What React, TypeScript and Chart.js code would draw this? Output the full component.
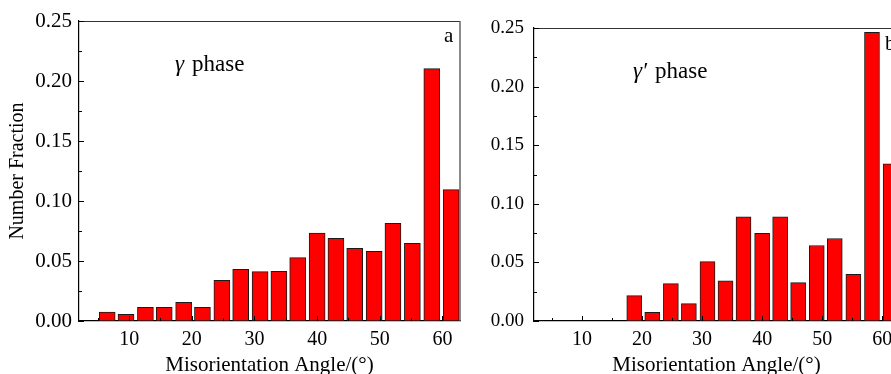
import { useEffect, useRef } from "react";
import { Chart, registerables } from "chart.js";

Chart.register(...registerables);

// ---- data ----
const angles = [6.5, 9.5, 12.6, 15.6, 18.7, 21.7, 24.8, 27.8, 30.9, 33.9, 36.9, 40.0, 43.0, 46.0, 49.1, 52.1, 55.2, 58.3, 61.4];
const gammaFractions = [0.0075, 0.0056, 0.0114, 0.0114, 0.0156, 0.0114, 0.0339, 0.0431, 0.0411, 0.0414, 0.0528, 0.0733, 0.0689, 0.0606, 0.0581, 0.0814, 0.0647, 0.2103, 0.1095];
const gammaPrimeFractions = [0, 0, 0, 0, 0.0217, 0.0074, 0.0319, 0.0148, 0.0507, 0.0342, 0.0888, 0.0749, 0.0888, 0.0328, 0.0644, 0.0704, 0.0399, 0.2463, 0.134];
const xTickValues = [10, 20, 30, 40, 50, 60];
const xTickLabels = ["10", "20", "30", "40", "50", "60"];
const xMinorTickValues = [5, 15, 25, 35, 45, 55];
const yTickValues = [0, 0.05, 0.1, 0.15, 0.2, 0.25];
const yTickLabels = ["0.00", "0.05", "0.10", "0.15", "0.20", "0.25"];
const yMinorTickValues = [0.025, 0.075, 0.125, 0.175, 0.225];
const xTitle = "Misorientation Angle/(°)";
const yTitle = "Number Fraction";

const FONT = "'Liberation Serif', 'Times New Roman', serif";

type Annot = { text: string; x: number; y: number; size: number; italic?: boolean };

type Panel = {
  values: number[];
  width: number;
  left: number;
  padTop: number;
  padRight: number;
  yWidth: number;
  yPad: number;
  ySize: number;
  showYTitle: boolean;
  barThickness: number;
  annots: Annot[];
};

const framePlugin = {
  id: "frameTicks",
  afterDraw(chart: any) {
    const { ctx, chartArea } = chart;
    const xs = chart.scales.x;
    const ys = chart.scales.y;
    ctx.save();
    // top and right frame
    ctx.strokeStyle = "#333";
    ctx.lineWidth = 1;
    ctx.beginPath();
    ctx.moveTo(chartArea.left, chartArea.top + 0.5);
    ctx.lineTo(chartArea.right, chartArea.top + 0.5);
    ctx.stroke();
    ctx.strokeStyle = "#666";
    ctx.lineWidth = 1.5;
    ctx.beginPath();
    ctx.moveTo(chartArea.right, chartArea.top);
    ctx.lineTo(chartArea.right, chartArea.bottom);
    ctx.stroke();
    // inward ticks
    ctx.strokeStyle = "#000";
    ctx.lineWidth = 1;
    const tick = (x1: number, y1: number, x2: number, y2: number) => {
      ctx.beginPath();
      ctx.moveTo(x1, y1);
      ctx.lineTo(x2, y2);
      ctx.stroke();
    };
    xTickValues.forEach((v) => {
      const px = Math.round(xs.getPixelForValue(v)) + 0.5;
      tick(px, chartArea.bottom, px, chartArea.bottom - 5);
    });
    xMinorTickValues.forEach((v) => {
      const px = Math.round(xs.getPixelForValue(v)) + 0.5;
      tick(px, chartArea.bottom, px, chartArea.bottom - 3);
    });
    yTickValues.forEach((v) => {
      const py = Math.round(ys.getPixelForValue(v)) + 0.5;
      tick(chartArea.left, py, chartArea.left + 5, py);
    });
    yMinorTickValues.forEach((v) => {
      const py = Math.round(ys.getPixelForValue(v)) + 0.5;
      tick(chartArea.left, py, chartArea.left + 3, py);
    });
    ctx.restore();
  },
};

const annotPlugin = (items: Annot[]) => ({
  id: "annots",
  afterDraw(chart: any) {
    const { ctx } = chart;
    ctx.save();
    ctx.fillStyle = "#000";
    ctx.textBaseline = "alphabetic";
    ctx.textAlign = "left";
    items.forEach((a) => {
      ctx.font = `${a.italic ? "italic " : ""}${a.size}px ${FONT}`;
      ctx.fillText(a.text, a.x, a.y);
    });
    ctx.restore();
  },
});

function makeConfig(p: Panel): any {
  return {
    type: "bar",
    data: {
      datasets: [
        {
          data: angles.map((a, i) => ({ x: a, y: p.values[i] })),
          backgroundColor: "#ff0000",
          borderColor: "#1a1a1a",
          borderWidth: 1,
          borderSkipped: false,
          barThickness: p.barThickness,
        },
      ],
    },
    options: {
      responsive: false,
      animation: false,
      devicePixelRatio: 1,
      layout: { padding: { left: 0, top: p.padTop, right: p.padRight, bottom: 0 } },
      plugins: { legend: { display: false }, tooltip: { enabled: false }, title: { display: false } },
      scales: {
        x: {
          type: "linear",
          min: 2,
          max: 62.8,
          offset: false,
          grid: { display: false, drawTicks: false, offset: false },
          border: { display: true, color: "#000", width: 1.2 },
          afterBuildTicks: (s: any) => {
            s.ticks = xTickValues.map((v) => ({ value: v }));
          },
          afterFit: (s: any) => {
            s.height = 53;
          },
          ticks: {
            autoSkip: false,
            maxRotation: 0,
            padding: 7,
            color: "#000",
            font: { family: FONT, size: 20 },
            callback: (_v: any, i: number) => xTickLabels[i],
          },
          title: {
            display: true,
            text: xTitle,
            color: "#000",
            font: { family: FONT, size: 21, lineHeight: 0.8 },
            padding: 0,
          },
        },
        y: {
          min: 0,
          max: 0.25,
          grid: { display: false, drawTicks: false },
          border: { display: true, color: "#000", width: 1.2 },
          afterBuildTicks: (s: any) => {
            s.ticks = yTickValues.map((v) => ({ value: v }));
          },
          afterFit: (s: any) => {
            s.width = p.yWidth;
          },
          ticks: {
            autoSkip: false,
            padding: p.yPad,
            color: "#000",
            font: { family: FONT, size: p.ySize },
            callback: (_v: any, i: number) => yTickLabels[i],
          },
          title: {
            display: p.showYTitle,
            text: yTitle,
            color: "#000",
            font: { family: FONT, size: 20, lineHeight: 1.2 },
            padding: { top: 5.5, bottom: 0 },
          },
        },
      },
    },
    plugins: [framePlugin, annotPlugin(p.annots)],
  };
}

const leftPanel: Panel = {
  values: gammaFractions,
  width: 480,
  left: 0,
  padTop: 21,
  padRight: 20,
  yWidth: 79,
  yPad: 7,
  ySize: 21,
  showYTitle: true,
  barThickness: 16,
  annots: [
    { text: "γ", x: 175, y: 71, size: 23, italic: true },
    { text: "phase", x: 192, y: 71, size: 23 },
    { text: "a", x: 444, y: 42, size: 21 },
  ],
};

const rightPanel: Panel = {
  values: gammaPrimeFractions,
  width: 460,
  left: 460,
  padTop: 28,
  padRight: 21,
  yWidth: 74,
  yPad: 10,
  ySize: 19,
  showYTitle: false,
  barThickness: 15,
  annots: [
    { text: "γ′", x: 173, y: 78, size: 23, italic: true },
    { text: "phase", x: 195, y: 78, size: 23 },
    { text: "b", x: 425, y: 50, size: 21 },
  ],
};

export default function App() {
  const leftRef = useRef<HTMLCanvasElement | null>(null);
  const rightRef = useRef<HTMLCanvasElement | null>(null);

  useEffect(() => {
    document.body.style.margin = "0";
    const charts: Chart[] = [];
    if (leftRef.current) charts.push(new Chart(leftRef.current, makeConfig(leftPanel)));
    if (rightRef.current) charts.push(new Chart(rightRef.current, makeConfig(rightPanel)));
    return () => charts.forEach((c) => c.destroy());
  }, []);

  return (
    <div style={{ position: "relative", width: 891, height: 374, overflow: "hidden", background: "#fff" }}>
      <canvas
        ref={leftRef}
        width={leftPanel.width}
        height={374}
        style={{ position: "absolute", left: leftPanel.left, top: 0, width: leftPanel.width, height: 374 }}
      />
      <canvas
        ref={rightRef}
        width={rightPanel.width}
        height={374}
        style={{ position: "absolute", left: rightPanel.left, top: 0, width: rightPanel.width, height: 374 }}
      />
    </div>
  );
}
